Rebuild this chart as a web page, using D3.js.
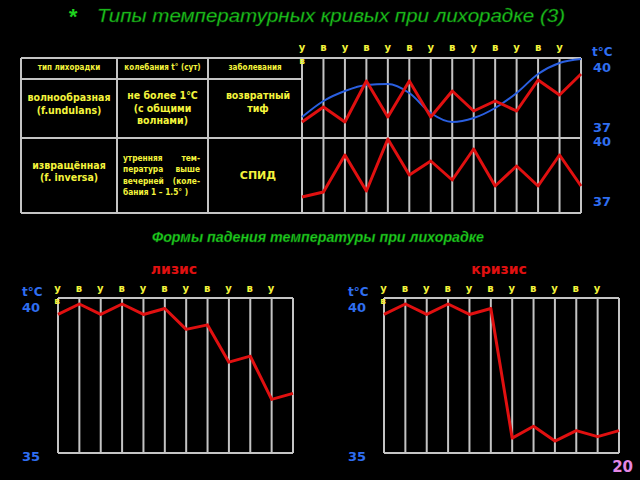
<!DOCTYPE html>
<html>
<head>
<meta charset="utf-8">
<script src="https://cdn.jsdelivr.net/npm/d3@7"></script>
<style>
  html, body { margin: 0; padding: 0; background: #000; }
  svg { display: block; }
</style>
</head>
<body>
<svg id="chart" width="640" height="480"></svg>
<script>
// ---------- DATA ----------
const mainTitle = "Типы температурных кривых при лихорадке (3)";
const subTitle = "Формы падения температуры при лихорадке";
const tableHeader = ["тип лихорадки", "колебания t° (сут)", "заболевания"];
const row1Type = ["волнообразная", "(f.undulans)"];
const row1Range = ["не более 1°С", "(с общими", "волнами)"];
const row1Disease = ["возвратный", "тиф"];
const row2Type = ["извращённая", "(f. inversa)"];
const row2Range = [["утренняя", "тем-"], ["пература", "выше"], ["вечерней", "(коле-"], ["бания 1 – 1.5° )", ""]];
const row2Disease = ["СПИД"];

const topDayLabels = ["у","в","у","в","у","в","у","в","у","в","у","в","у"];
const bottomDayLabels = ["у","в","у","в","у","в","у","в","у","в","у"];

// wave-like fever (undulans): blue smooth curve and red daily curve
const undulansBlue = [37.5, 38.3, 38.8, 39.1, 39.15, 38.7, 37.7, 37.25, 37.45, 37.95, 38.7, 39.65, 40.2, 40.4];
const undulansRed  = [37.25, 38.0, 37.25, 39.3, 37.5, 39.3, 37.5, 38.8, 37.8, 38.3, 37.8, 39.35, 38.6, 39.65];
// inverse fever
const inversaRed   = [37.2, 37.45, 39.3, 37.5, 40.1, 38.3, 39.0, 38.05, 39.6, 37.75, 38.75, 37.75, 39.3, 37.75];
// lysis and crisis
const lysis  = [39.75, 40.1, 39.75, 40.1, 39.75, 39.95, 39.25, 39.4, 38.15, 38.35, 36.9, 37.1];
const crisis = [39.75, 40.1, 39.75, 40.1, 39.75, 39.95, 35.6, 36.0, 35.5, 35.85, 35.65, 35.85];

const topTicks = [37, 40];
const bottomTicks = [35, 40];
const unitLabel = "t°C";
const lysisTitle = "лизис";
const crisisTitle = "кризис";
const pageNumber = "20";

// ---------- STYLE ----------
const C = {
  grid: "#c4c4c4", red: "#e01010", blue: "#2a5fe0", yellow: "#f4f43c",
  axis: "#2f6ef0", green: "#1ed21e", pink: "#e487e4"
};
const FONT = "'DejaVu Sans', sans-serif";
const FONT_C = "'DejaVu Sans Condensed', 'DejaVu Sans', sans-serif";

const svg = d3.select("#chart");
svg.append("rect").attr("width", 640).attr("height", 480).attr("fill", "#000");

// ---------- TITLES ----------
svg.append("text").attr("x", 68).attr("y", 24).text("*")
  .attr("fill", C.green).attr("font-family", "'Liberation Sans', Arial, sans-serif")
  .attr("font-style", "italic").attr("font-weight", "bold").attr("font-size", 22);
svg.append("text").attr("x", 97).attr("y", 22).text(mainTitle)
  .attr("fill", C.green).attr("stroke", "#0c5a0c").attr("stroke-width", 0.5)
  .attr("font-family", "'Liberation Sans', Arial, sans-serif")
  .attr("font-style", "italic").attr("font-size", 19)
  .attr("textLength", 468).attr("lengthAdjust", "spacingAndGlyphs");

svg.append("text").attr("x", 152).attr("y", 242).text(subTitle)
  .attr("fill", C.green).attr("stroke", "#0c5a0c").attr("stroke-width", 0.4)
  .attr("font-family", "'Liberation Sans', Arial, sans-serif")
  .attr("font-style", "italic").attr("font-weight", "bold").attr("font-size", 14)
  .attr("textLength", 332).attr("lengthAdjust", "spacingAndGlyphs");

// ---------- TABLE ----------
const tbl = svg.append("g");
const colX = [21, 117, 208, 302];
const tableRowsY = [58, 79, 138, 213];
const gridStroke = (sel) => sel.attr("stroke", C.grid).attr("stroke-width", 2).attr("fill", "none");

tbl.append("line").attr("x1", 21).attr("x2", 302).attr("y1", tableRowsY[1]).attr("y2", tableRowsY[1]).call(gridStroke);
colX.slice(0, 3).forEach(x => tbl.append("line").attr("x1", x).attr("x2", x)
  .attr("y1", tableRowsY[0]).attr("y2", tableRowsY[3]).call(gridStroke));

function yText(txt, x, y, size, anchor = "middle", family = FONT_C) {
  return tbl.append("text").attr("x", x).attr("y", y).text(txt)
    .attr("fill", C.yellow).attr("font-family", family).attr("font-weight", "bold")
    .attr("font-size", size).attr("text-anchor", anchor);
}
const colMid = [69, 162.5, 255];
tableHeader.forEach((t, i) => yText(t, colMid[i], 70, 8));
row1Type.forEach((t, i) => yText(t, colMid[0], 101 + i * 12.5, 10.5));
row1Range.forEach((t, i) => yText(t, colMid[1], 99 + i * 12.5, 10.5));
row1Disease.forEach((t, i) => yText(t, 258, 99 + i * 12.5, 10.5));
row2Type.forEach((t, i) => yText(t, colMid[0], 169 + i * 12, 10.5));
row2Range.forEach((pair, i) => {
  yText(pair[0], 123, 161 + i * 11.3, 8.3, "start");
  if (pair[1]) yText(pair[1], 200, 161 + i * 11.3, 8.3, "end");
});
row2Disease.forEach((t) => yText(t, 258, 179, 11, "middle", FONT));

// ---------- TOP CHART ----------
const topX = d3.scaleLinear().domain([0, 13]).range([302, 581]);
const topY1 = d3.scaleLinear().domain([37, 40]).range([127, 67]);
const topY2 = d3.scaleLinear().domain([37, 40]).range([201, 141]);

const topG = svg.append("g");
[58, 138, 213].forEach(y => topG.append("line").attr("x1", 21).attr("x2", 581)
  .attr("y1", y).attr("y2", y).call(gridStroke));
d3.range(14).forEach(i => topG.append("line").attr("x1", topX(i)).attr("x2", topX(i))
  .attr("y1", 58).attr("y2", 213).call(gridStroke));

const dayText = (g, txt, x, y) => g.append("text").attr("x", x).attr("y", y).text(txt)
  .attr("fill", C.yellow).attr("font-family", FONT).attr("font-weight", "bold")
  .attr("font-size", 10).attr("text-anchor", "middle");

topDayLabels.forEach((t, i) => dayText(topG, t, topX(i), 51));
dayText(topG, "в", topX(0), 64).attr("font-size", 9);

const line1Blue = d3.line().x((d, i) => topX(i)).y(d => topY1(d)).curve(d3.curveMonotoneX);
const line1Red = d3.line().x((d, i) => topX(i)).y(d => topY1(d));
const line2Red = d3.line().x((d, i) => topX(i)).y(d => topY2(d));

topG.append("path").datum(undulansBlue).attr("d", line1Blue)
  .attr("fill", "none").attr("stroke", C.blue).attr("stroke-width", 2);
topG.append("path").datum(undulansRed).attr("d", line1Red)
  .attr("fill", "none").attr("stroke", C.red).attr("stroke-width", 3).attr("stroke-linejoin", "round");
topG.append("path").datum(inversaRed).attr("d", line2Red)
  .attr("fill", "none").attr("stroke", C.red).attr("stroke-width", 3).attr("stroke-linejoin", "round");

function styleAxis(g) {
  g.select(".domain").remove();
  g.selectAll(".tick line").remove();
  g.selectAll(".tick text").attr("fill", C.axis).attr("font-family", FONT)
    .attr("font-weight", "bold").attr("font-size", 13)
    .attr("text-anchor", "start").attr("dy", "0.36em");
}
const axTop1 = topG.append("g").attr("transform", "translate(593,0)")
  .call(d3.axisRight(topY1).tickValues(topTicks).tickSize(0).tickPadding(0).tickFormat(d3.format("d")));
styleAxis(axTop1);
const axTop2 = topG.append("g").attr("transform", "translate(593,0)")
  .call(d3.axisRight(topY2).tickValues(topTicks).tickSize(0).tickPadding(0).tickFormat(d3.format("d")));
styleAxis(axTop2);
topG.append("text").attr("x", 592).attr("y", 56).text(unitLabel)
  .attr("fill", C.axis).attr("font-family", FONT).attr("font-weight", "bold").attr("font-size", 12);

// ---------- BOTTOM CHARTS ----------
function fallChart(left, right, values, title, titleX) {
  const n = values.length;
  const g = svg.append("g");
  const x = d3.scaleLinear().domain([0, n - 1]).range([left, right]);
  const y = d3.scaleLinear().domain([35, 40]).range([456, 307]);
  const gTop = 298, gBot = 453;
  g.append("line").attr("x1", left).attr("x2", right).attr("y1", gTop).attr("y2", gTop).call(gridStroke);
  g.append("line").attr("x1", left).attr("x2", right).attr("y1", gBot).attr("y2", gBot).call(gridStroke);
  d3.range(n).forEach(i => g.append("line").attr("x1", x(i)).attr("x2", x(i))
    .attr("y1", gTop).attr("y2", gBot).call(gridStroke));
  bottomDayLabels.forEach((t, i) => dayText(g, t, x(i) - 0.5, 292));
  dayText(g, "в", x(0) - 1, 304).attr("font-size", 9);
  g.append("path").datum(values)
    .attr("d", d3.line().x((d, i) => x(i)).y(d => y(d)))
    .attr("fill", "none").attr("stroke", C.red).attr("stroke-width", 3).attr("stroke-linejoin", "round");
  const ax = g.append("g").attr("transform", `translate(${left - 36},0)`)
    .call(d3.axisRight(y).tickValues(bottomTicks).tickSize(0).tickPadding(0).tickFormat(d3.format("d")));
  styleAxis(ax);
  g.append("text").attr("x", left - 36).attr("y", 296).text(unitLabel)
    .attr("fill", C.axis).attr("font-family", FONT).attr("font-weight", "bold").attr("font-size", 12);
  g.append("text").attr("x", titleX).attr("y", 274).text(title)
    .attr("fill", C.red).attr("font-family", FONT).attr("font-weight", "bold")
    .attr("font-size", 14).attr("text-anchor", "middle");
}
fallChart(58, 293, lysis, lysisTitle, 174);
fallChart(384, 619, crisis, crisisTitle, 499);

svg.append("text").attr("x", 633).attr("y", 472).text(pageNumber)
  .attr("fill", C.pink).attr("font-family", FONT).attr("font-weight", "bold")
  .attr("font-size", 15).attr("text-anchor", "end");
</script>
</body>
</html>
